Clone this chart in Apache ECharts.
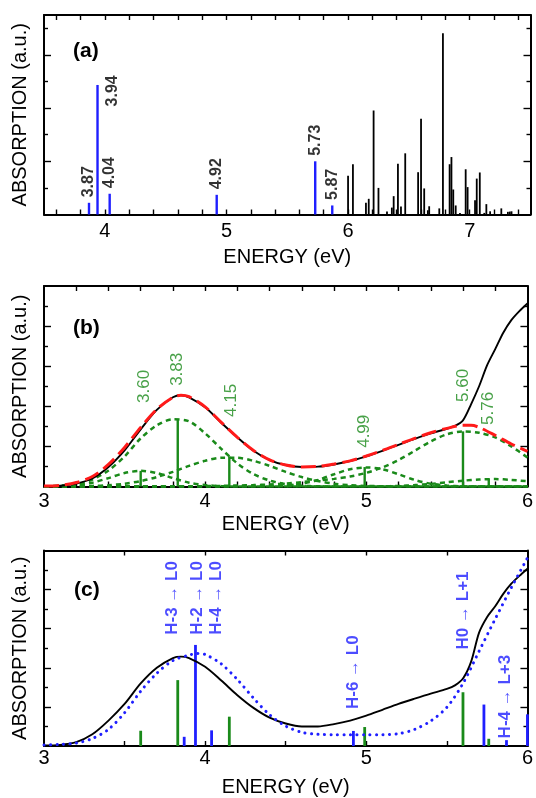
<!DOCTYPE html>
<html><head><meta charset="utf-8">
<script src="https://cdn.jsdelivr.net/npm/echarts@6/dist/echarts.min.js"></script>
<style>html,body{margin:0;padding:0;background:#fff}#c{width:536px;height:798px}</style>
</head><body><div id="c"></div>
<script>
// ================= DATA =================
// Panel (a): computed oscillator strengths
const blueSticksA = [[3.87,0.44],[3.94,4.87],[4.04,0.78],[4.92,0.74],[5.73,2.0],[5.87,0.34]];
const blueLabelsA = ['3.87','3.94','4.04','4.92','5.73','5.87'];
const blackSticksA = [[6.0,1.46],[6.04,1.89],[6.147,0.44],[6.17,0.59],[6.21,3.91],[6.25,1.0],[6.32,0.11],[6.36,0.26],[6.375,0.69],[6.41,1.91],[6.435,0.3],[6.47,2.3],[6.576,1.59],[6.60,3.6],[6.626,0.98],[6.656,0.16],[6.667,0.31],[6.75,0.23],[6.78,6.81],[6.835,1.89],[6.85,2.16],[6.865,0.94],[6.885,0.34],[6.92,0.06],[6.967,1.70],[6.983,1.03],[7.044,0.54],[7.058,1.35],[7.083,1.58],[7.12,0.06],[7.137,0.39],[7.168,0.12],[7.26,0.23],[7.314,0.1],[7.33,0.11],[7.344,0.12]];
const xTicksA = [3.6,3.8,4.0,4.2,4.4,4.6,4.8,5.0,5.2,5.4,5.6,5.8,6.0,6.2,6.4,6.6,6.8,7.0,7.2,7.4];
const xLabelsA = [4,5,6,7];
const yMajorA = [2,4,6];
const yMinorA = [1,3,5,7];

// Panel (b): measured spectrum, Gaussian fit and components
const blackB = [[3.0,0.02],[3.1,0.04],[3.2,0.15],[3.3,0.4],[3.4,0.97],[3.5,1.8],[3.6,2.85],[3.7,3.82],[3.8,4.45],[3.85,4.55],[3.9,4.45],[4.0,3.95],[4.1,3.18],[4.2,2.45],[4.3,1.78],[4.4,1.32],[4.5,1.07],[4.6,0.97],[4.7,0.99],[4.8,1.1],[4.9,1.27],[5.0,1.5],[5.1,1.78],[5.2,2.08],[5.3,2.38],[5.4,2.65],[5.5,2.88],[5.55,3.02],[5.6,3.3],[5.65,4.1],[5.7,5.0],[5.75,6.05],[5.8,6.85],[5.85,7.67],[5.9,8.3],[5.95,8.75],[6.0,9.13]];
const redFitB = [[3.0,0.02],[3.1,0.06],[3.2,0.2],[3.3,0.5],[3.4,1.1],[3.5,1.95],[3.6,2.95],[3.7,3.85],[3.8,4.45],[3.85,4.55],[3.9,4.48],[4.0,3.97],[4.1,3.2],[4.2,2.45],[4.3,1.8],[4.4,1.33],[4.5,1.07],[4.6,0.97],[4.7,1.0],[4.8,1.12],[4.9,1.28],[5.0,1.52],[5.1,1.8],[5.2,2.1],[5.3,2.4],[5.4,2.68],[5.5,2.9],[5.6,3.05],[5.65,3.05],[5.7,2.95],[5.8,2.55],[5.9,2.12],[6.0,1.75]];
const energyGrid = [3.0,3.1,3.2,3.3,3.4,3.5,3.6,3.7,3.8,3.9,4.0,4.1,4.2,4.3,4.4,4.5,4.6,4.7,4.8,4.9,5.0,5.1,5.2,5.3,5.4,5.5,5.6,5.7,5.8,5.9,6.0];
const gauss360 = [0,0.01,0.07,0.19,0.42,0.67,0.78,0.67,0.42,0.19,0.07,0.02,0,0,0,0,0,0,0,0,0,0,0,0,0,0,0,0,0,0,0];
const gauss383 = [0.01,0.04,0.12,0.35,0.8,1.5,2.4,3.05,3.35,3.25,2.65,1.88,1.15,0.62,0.3,0.12,0.04,0.01,0,0,0,0,0,0,0,0,0,0,0,0,0];
const gauss415 = [0,0,0.01,0.03,0.06,0.14,0.27,0.47,0.73,1.03,1.28,1.43,1.43,1.28,1.03,0.73,0.47,0.27,0.14,0.06,0.03,0.01,0,0,0,0,0,0,0,0,0];
const gauss499 = [0,0,0,0,0,0,0,0,0,0,0,0,0,0,0.01,0.05,0.14,0.33,0.61,0.86,0.95,0.86,0.61,0.33,0.14,0.05,0.01,0,0,0,0];
const gauss560 = [0,0,0,0,0,0,0,0,0,0,0.02,0.03,0.05,0.07,0.1,0.15,0.22,0.3,0.38,0.5,0.68,0.95,1.32,1.78,2.25,2.6,2.75,2.68,2.45,2.0,1.45];
const gauss576 = [0,0,0,0,0,0,0,0,0,0,0,0,0,0,0,0,0,0,0,0,0,0.01,0.03,0.07,0.13,0.21,0.29,0.35,0.37,0.33,0.26];
const greenSticks = [[3.60,0.78],[3.83,3.37],[4.15,1.5],[4.99,0.97],[5.60,2.75],[5.76,0.37]];
const greenLabelsB = ['3.60','3.83','4.15','4.99','5.60','5.76'];
const xTicksB = [3.2,3.4,3.6,3.8,4.0,4.2,4.4,4.6,4.8,5.0,5.2,5.4,5.6,5.8];
const xLabelsBC = [3,4,5,6];
const yMajorBC = [2,4,6,8];
const yMinorBC = [1,3,5,7,9];

// Panel (c): measured vs computed spectrum
const blackC = [[3.0,0.03],[3.1,0.06],[3.2,0.2],[3.3,0.6],[3.4,1.3],[3.5,2.15],[3.6,3.2],[3.7,4.0],[3.8,4.5],[3.85,4.57],[3.9,4.5],[4.0,4.05],[4.1,3.35],[4.2,2.6],[4.3,1.95],[4.4,1.45],[4.5,1.15],[4.6,1.0],[4.7,1.0],[4.8,1.12],[4.9,1.3],[5.0,1.55],[5.1,1.85],[5.2,2.15],[5.3,2.42],[5.4,2.68],[5.5,2.92],[5.55,3.1],[5.6,3.45],[5.65,4.3],[5.7,5.8],[5.75,6.6],[5.8,7.15],[5.85,7.78],[5.9,8.3],[5.95,8.7],[6.0,9.07]];
const blueCalcC = [[3.0,0.05],[3.1,0.08],[3.2,0.15],[3.3,0.38],[3.4,0.85],[3.5,1.7],[3.6,2.8],[3.7,3.72],[3.8,4.37],[3.9,4.65],[3.95,4.73],[4.0,4.68],[4.1,4.2],[4.2,3.4],[4.3,2.45],[4.4,1.6],[4.5,1.02],[4.6,0.7],[4.7,0.6],[4.8,0.58],[4.9,0.58],[5.0,0.58],[5.1,0.58],[5.2,0.63],[5.3,0.85],[5.4,1.28],[5.5,1.98],[5.6,3.2],[5.7,4.85],[5.8,6.5],[5.9,8.1],[6.0,9.62]];
const blueSticksC = [[3.87,0.47],[3.94,5.17],[4.04,0.8],[4.92,0.77],[5.73,2.12],[5.87,0.3],[6.0,1.62]];
const transitionsC = ['H-3 \u2192 L0','H-2 \u2192 L0','H-4 \u2192 L0','H-6 \u2192 L0','H0 \u2192 L+1','H-4 \u2192 L+3'];
const xTicksC = [3.5,4.0,4.5,5.0,5.5];

// ================= LAYOUT / STYLE =================
const FONT = '"Liberation Sans", Arial, sans-serif';
const GREEN = '#1a8a1a', BLUE = '#1f1fff', RED = '#ff1a1a';
const panels = [
  {top:15, height:199.5, min:3.5, max:7.5, ymax:7.5, ticks:xTicksA, labels:xLabelsA, ymaj:yMajorA, ymin:yMinorA, labelMargin:7, nameGap:33},
  {top:286, height:200.5, min:3, max:6, ymax:10, ticks:xTicksB, labels:xLabelsBC, ymaj:yMajorBC, ymin:yMinorBC, labelMargin:5, nameGap:28},
  {top:550.5, height:200, min:3, max:6, ymax:10, ticks:xTicksC, labels:xLabelsBC, ymaj:yMajorBC, ymin:yMinorBC, labelMargin:2, nameGap:31}
];
// label anchors (annotation placement): [energy, height in axis units]
const labelPlaceB = [[3.62,4.17],[3.83,5.02],[4.16,3.47],[4.99,1.93],[5.60,4.22],[5.76,3.07]];
const labelPlaceC = [[3.795,5.69],[3.95,5.69],[4.07,5.69],[4.92,1.89],[5.60,4.94],[5.86,0.39]];

const grids = [], xAxes = [], yAxes = [], series = [];
panels.forEach((p, i) => {
  grids.push({left:44, width:486.5, top:p.top, height:p.height});
  const tickStyle = {color:'#000', width:1.4};
  const common = {gridIndex:i, type:'value', min:p.min, max:p.max, splitLine:{show:false}};
  xAxes.push(Object.assign({}, common, {position:'bottom',
    axisLine:{show:true, onZero:false, lineStyle:{color:'#000', width:2}},
    axisTick:{show:true, inside:true, length:5, customValues:p.ticks, lineStyle:tickStyle},
    axisLabel:{show:true, customValues:p.labels, margin:p.labelMargin, fontSize:20, color:'#000', fontFamily:FONT},
    name:'ENERGY (eV)', nameLocation:'middle', nameGap:p.nameGap,
    nameTextStyle:{fontSize:20, color:'#000', fontFamily:FONT}}));
  xAxes.push(Object.assign({}, common, {position:'top',
    axisLine:{show:true, onZero:false, lineStyle:{color:'#000', width:2}},
    axisTick:{show:true, inside:true, length:5, customValues:p.ticks, lineStyle:tickStyle},
    axisLabel:{show:false}}));
  const yc = {gridIndex:i, type:'value', min:0, max:p.ymax, splitLine:{show:false}, axisLabel:{show:false}};
  yAxes.push(Object.assign({}, yc, {position:'left',
    axisLine:{show:true, onZero:false, lineStyle:{color:'#000', width:2}},
    axisTick:{show:true, inside:true, length:7, customValues:p.ymaj, lineStyle:tickStyle},
    name:'ABSORPTION (a.u.)', nameLocation:'middle', nameGap:14,
    nameTextStyle:{fontSize:20, color:'#000', fontFamily:FONT}}));
  yAxes.push(Object.assign({}, yc, {position:'left', axisLine:{show:false},
    axisTick:{show:true, inside:true, length:4, customValues:p.ymin, lineStyle:tickStyle}}));
  yAxes.push(Object.assign({}, yc, {position:'right',
    axisLine:{show:true, onZero:false, lineStyle:{color:'#000', width:2}},
    axisTick:{show:true, inside:true, length:7, customValues:p.ymaj, lineStyle:tickStyle}}));
  yAxes.push(Object.assign({}, yc, {position:'right', axisLine:{show:false},
    axisTick:{show:true, inside:true, length:4, customValues:p.ymin, lineStyle:tickStyle}}));
});

function sticks(panel, data, color, w) {
  return {type:'custom', xAxisIndex:panel*2, yAxisIndex:panel*4, data:data, encode:{x:0, y:1}, z:3,
    renderItem:(params, api) => {
      const top = api.coord([api.value(0), api.value(1)]);
      const base = api.coord([api.value(0), 0]);
      return {type:'rect', shape:{x:top[0]-w/2, y:top[1], width:w, height:base[1]-top[1]}, style:{fill:color}};
    }};
}
function curve(panel, data, color, width, type, extra) {
  return Object.assign({type:'line', xAxisIndex:panel*2, yAxisIndex:panel*4, data:data, showSymbol:false, symbol:'none',
    smooth:0.3, lineStyle:{color:color, width:width, type:type}, silent:true, animation:false}, extra||{});
}
function labelSeries(panel, points, texts, color, font, place) {
  return {type:'scatter', xAxisIndex:panel*2, yAxisIndex:panel*4, symbolSize:1, z:6,
    itemStyle:{color:'rgba(0,0,0,0)'}, animation:false,
    data:points.map((pt, k) => ({value:pt, name:texts[k], label:place ? place(k) : undefined})),
    label:{show:true, position:'inside', formatter:(d) => d.name, rotate:90, align:'left', verticalAlign:'middle',
      color:color, fontSize:font.size, fontWeight:font.weight, fontFamily:FONT}};
}

// Panel (a)
series.push(sticks(0, blueSticksA, BLUE, 2.4));
series.push(sticks(0, blackSticksA, '#000', 1.8));
series.push(labelSeries(0, blueSticksA, blueLabelsA, '#000', {size:16, weight:'bold'},
  (k) => blueLabelsA[k] === '3.94' ? {position:[16, 22]} : {position:'top', distance:5}));

// Panel (b)
[gauss360, gauss383, gauss415, gauss499, gauss560, gauss576].forEach(g => {
  series.push(curve(1, energyGrid.map((e, k) => [e, g[k]]), GREEN, 2.5, [5, 4], {z:2}));
});
series.push(sticks(1, greenSticks, GREEN, 2.4));
series.push(curve(1, blackB, '#000', 1.9, 'solid', {z:4}));
series.push(curve(1, redFitB, RED, 3, [15, 6], {z:5}));
series.push(labelSeries(1, labelPlaceB, greenLabelsB, GREEN, {size:17, weight:'normal'}));

// Panel (c)
series.push(sticks(2, greenSticks, GREEN, 2.8));
series.push(sticks(2, blueSticksC, BLUE, 2.8));
series.push(curve(2, blackC, '#000', 1.9, 'solid', {z:4}));
series.push(curve(2, blueCalcC, BLUE, 3, [0.1, 6.4], {z:5, lineStyle:{color:BLUE, width:3, type:[0.1, 6.4], cap:'round'}}));
series.push(labelSeries(2, labelPlaceC, transitionsC, BLUE, {size:17, weight:'bold'}));

const chart = echarts.init(document.getElementById('c'), null, {renderer:'canvas'});
chart.setOption({
  animation:false,
  backgroundColor:'#fff',
  grid:grids, xAxis:xAxes, yAxis:yAxes, series:series,
  graphic:[
    {type:'text', x:73, y:51, style:{text:'(a)', font:'bold 21px ' + FONT, fill:'#000', verticalAlign:'middle'}},
    {type:'text', x:73, y:328, style:{text:'(b)', font:'bold 21px ' + FONT, fill:'#000', verticalAlign:'middle'}},
    {type:'text', x:74, y:590, style:{text:'(c)', font:'bold 21px ' + FONT, fill:'#000', verticalAlign:'middle'}}
  ]
});
</script></body></html>
